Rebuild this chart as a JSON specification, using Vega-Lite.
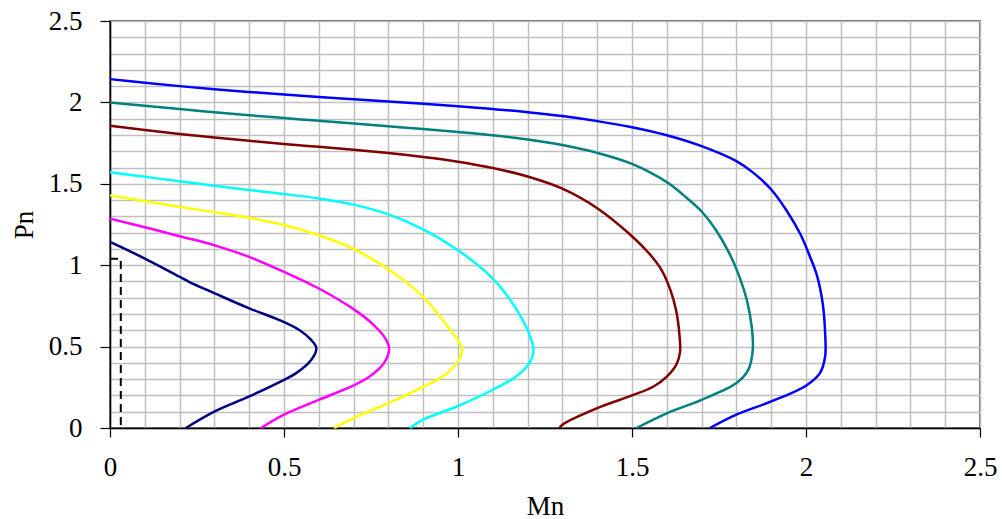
{
  "$schema": "https://vega.github.io/schema/vega-lite/v6.json",
  "width": 870,
  "height": 407,
  "autosize": "none",
  "padding": {"left": 110, "top": 21, "right": 22, "bottom": 91},
  "background": "white",
  "config": {
    "view": {"stroke": "#333333", "strokeWidth": 1.5},
    "font": "Liberation Serif"
  },
  "encoding": {
    "x": {
      "field": "m", "type": "quantitative",
      "scale": {"domain": [0, 2.5], "nice": false, "zero": false},
      "axis": {
        "values": [0,0.1,0.2,0.3,0.4,0.5,0.6,0.7,0.8,0.9,1,1.1,1.2,1.3,1.4,1.5,1.6,1.7,1.8,1.9,2,2.1,2.2,2.3,2.4,2.5],
        "title": "Mn",
        "grid": true, "gridColor": "#bfbfbf", "gridWidth": 1.5,
        "domainColor": "#000000", "domainWidth": 1.5,
        "tickColor": "#000000", "tickSize": 9, "tickWidth": 1.2,
        "tickOpacity": {"condition": {"test": "abs(datum.value*2-round(datum.value*2))<0.001", "value": 1}, "value": 0},
        "labelExpr": "abs(datum.value*2-round(datum.value*2))<0.001 ? format(datum.value,'.1~f') : ''",
        "labelOverlap": false, "labelFlush": false,
        "labelFont": "Liberation Serif", "labelFontSize": 27, "labelColor": "#000000", "labelPadding": 17,
        "titleFont": "Liberation Serif", "titleFontSize": 27, "titleFontWeight": "normal", "titleColor": "#000000", "titlePadding": 13
      }
    },
    "y": {
      "field": "p", "type": "quantitative",
      "scale": {"domain": [0, 2.5], "nice": false, "zero": false},
      "axis": {
        "values": [0,0.1,0.2,0.3,0.4,0.5,0.6,0.7,0.8,0.9,1,1.1,1.2,1.3,1.4,1.5,1.6,1.7,1.8,1.9,2,2.1,2.2,2.3,2.4,2.5],
        "title": "Pn",
        "grid": true, "gridColor": "#bfbfbf", "gridWidth": 1.5,
        "domainColor": "#000000", "domainWidth": 1.5,
        "tickColor": "#000000", "tickSize": 10, "tickWidth": 1.2,
        "tickOpacity": {"condition": {"test": "abs(datum.value*2-round(datum.value*2))<0.001", "value": 1}, "value": 0},
        "labelExpr": "abs(datum.value*2-round(datum.value*2))<0.001 ? format(datum.value,'.1~f') : ''",
        "labelOverlap": false, "labelFlush": false,
        "labelFont": "Liberation Serif", "labelFontSize": 27, "labelColor": "#000000", "labelPadding": 18,
        "titleFont": "Liberation Serif", "titleFontSize": 27, "titleFontWeight": "normal", "titleColor": "#000000", "titlePadding": 10
      }
    }
  },
  "layer": [
    {
      "data": {"values": [
        {"s":"a","i":0,"m":0,"p":1.143},{"s":"a","i":1,"m":0.1,"p":1.041},{"s":"a","i":2,"m":0.2,"p":0.929},{"s":"a","i":3,"m":0.227,"p":0.898},{"s":"a","i":4,"m":0.301,"p":0.827},{"s":"a","i":5,"m":0.4,"p":0.735},{"s":"a","i":6,"m":0.487,"p":0.663},{"s":"a","i":7,"m":0.544,"p":0.602},{"s":"a","i":8,"m":0.578,"p":0.541},{"s":"a","i":9,"m":0.593,"p":0.49},{"s":"a","i":10,"m":0.578,"p":0.418},{"s":"a","i":11,"m":0.535,"p":0.337},{"s":"a","i":12,"m":0.5,"p":0.296},{"s":"a","i":13,"m":0.4,"p":0.194},{"s":"a","i":14,"m":0.301,"p":0.102},{"s":"a","i":15,"m":0.218,"p":0},
        {"s":"b","i":0,"m":0,"p":1.286},{"s":"b","i":1,"m":0.1,"p":1.233},{"s":"b","i":2,"m":0.2,"p":1.178},{"s":"b","i":3,"m":0.301,"p":1.122},{"s":"b","i":4,"m":0.4,"p":1.051},{"s":"b","i":5,"m":0.5,"p":0.959},{"s":"b","i":6,"m":0.6,"p":0.857},{"s":"b","i":7,"m":0.7,"p":0.73},{"s":"b","i":8,"m":0.755,"p":0.638},{"s":"b","i":9,"m":0.791,"p":0.551},{"s":"b","i":10,"m":0.802,"p":0.49},{"s":"b","i":11,"m":0.789,"p":0.405},{"s":"b","i":12,"m":0.746,"p":0.316},{"s":"b","i":13,"m":0.7,"p":0.262},{"s":"b","i":14,"m":0.6,"p":0.173},{"s":"b","i":15,"m":0.5,"p":0.082},{"s":"b","i":16,"m":0.434,"p":0},
        {"s":"c","i":0,"m":0,"p":1.429},{"s":"c","i":1,"m":0.1,"p":1.393},{"s":"c","i":2,"m":0.2,"p":1.359},{"s":"c","i":3,"m":0.3,"p":1.326},{"s":"c","i":4,"m":0.4,"p":1.291},{"s":"c","i":5,"m":0.5,"p":1.247},{"s":"c","i":6,"m":0.6,"p":1.184},{"s":"c","i":7,"m":0.7,"p":1.1},{"s":"c","i":8,"m":0.8,"p":0.975},{"s":"c","i":9,"m":0.9,"p":0.806},{"s":"c","i":10,"m":0.956,"p":0.663},{"s":"c","i":11,"m":0.999,"p":0.541},{"s":"c","i":12,"m":1.012,"p":0.48},{"s":"c","i":13,"m":0.999,"p":0.408},{"s":"c","i":14,"m":0.956,"p":0.316},{"s":"c","i":15,"m":0.9,"p":0.253},{"s":"c","i":16,"m":0.8,"p":0.153},{"s":"c","i":17,"m":0.7,"p":0.061},{"s":"c","i":18,"m":0.644,"p":0},
        {"s":"d","i":0,"m":0,"p":1.571},{"s":"d","i":1,"m":0.1,"p":1.543},{"s":"d","i":2,"m":0.2,"p":1.515},{"s":"d","i":3,"m":0.3,"p":1.488},{"s":"d","i":4,"m":0.4,"p":1.462},{"s":"d","i":5,"m":0.5,"p":1.437},{"s":"d","i":6,"m":0.6,"p":1.41},{"s":"d","i":7,"m":0.7,"p":1.372},{"s":"d","i":8,"m":0.8,"p":1.312},{"s":"d","i":9,"m":0.9,"p":1.22},{"s":"d","i":10,"m":1.0,"p":1.092},{"s":"d","i":11,"m":1.1,"p":0.918},{"s":"d","i":12,"m":1.157,"p":0.765},{"s":"d","i":13,"m":1.2,"p":0.602},{"s":"d","i":14,"m":1.217,"p":0.48},{"s":"d","i":15,"m":1.205,"p":0.398},{"s":"d","i":16,"m":1.167,"p":0.316},{"s":"d","i":17,"m":1.1,"p":0.235},{"s":"d","i":18,"m":1.0,"p":0.135},{"s":"d","i":19,"m":0.9,"p":0.051},{"s":"d","i":20,"m":0.862,"p":0},
        {"s":"e","i":0,"m":0,"p":1.857},{"s":"e","i":1,"m":0.1,"p":1.83},{"s":"e","i":2,"m":0.2,"p":1.806},{"s":"e","i":3,"m":0.3,"p":1.784},{"s":"e","i":4,"m":0.4,"p":1.764},{"s":"e","i":5,"m":0.5,"p":1.745},{"s":"e","i":6,"m":0.6,"p":1.727},{"s":"e","i":7,"m":0.7,"p":1.709},{"s":"e","i":8,"m":0.8,"p":1.689},{"s":"e","i":9,"m":0.9,"p":1.665},{"s":"e","i":10,"m":1.0,"p":1.636},{"s":"e","i":11,"m":1.1,"p":1.597},{"s":"e","i":12,"m":1.2,"p":1.545},{"s":"e","i":13,"m":1.3,"p":1.47},{"s":"e","i":14,"m":1.4,"p":1.35},{"s":"e","i":15,"m":1.5,"p":1.178},{"s":"e","i":16,"m":1.55,"p":1.07},{"s":"e","i":17,"m":1.585,"p":0.97},{"s":"e","i":18,"m":1.61,"p":0.85},{"s":"e","i":19,"m":1.627,"p":0.72},{"s":"e","i":20,"m":1.636,"p":0.58},{"s":"e","i":21,"m":1.638,"p":0.465},{"s":"e","i":22,"m":1.627,"p":0.388},{"s":"e","i":23,"m":1.6,"p":0.316},{"s":"e","i":24,"m":1.562,"p":0.255},{"s":"e","i":25,"m":1.5,"p":0.2},{"s":"e","i":26,"m":1.4,"p":0.122},{"s":"e","i":27,"m":1.3,"p":0.02},{"s":"e","i":28,"m":1.292,"p":0},
        {"s":"f","i":0,"m":0,"p":2.0},{"s":"f","i":1,"m":0.1,"p":1.979},{"s":"f","i":2,"m":0.2,"p":1.959},{"s":"f","i":3,"m":0.3,"p":1.94},{"s":"f","i":4,"m":0.4,"p":1.921},{"s":"f","i":5,"m":0.5,"p":1.904},{"s":"f","i":6,"m":0.6,"p":1.887},{"s":"f","i":7,"m":0.7,"p":1.87},{"s":"f","i":8,"m":0.8,"p":1.853},{"s":"f","i":9,"m":0.9,"p":1.836},{"s":"f","i":10,"m":1.0,"p":1.818},{"s":"f","i":11,"m":1.1,"p":1.798},{"s":"f","i":12,"m":1.2,"p":1.772},{"s":"f","i":13,"m":1.3,"p":1.738},{"s":"f","i":14,"m":1.4,"p":1.69},{"s":"f","i":15,"m":1.5,"p":1.622},{"s":"f","i":16,"m":1.6,"p":1.51},{"s":"f","i":17,"m":1.657,"p":1.414},{"s":"f","i":18,"m":1.7,"p":1.33},{"s":"f","i":19,"m":1.743,"p":1.21},{"s":"f","i":20,"m":1.778,"p":1.08},{"s":"f","i":21,"m":1.805,"p":0.95},{"s":"f","i":22,"m":1.83,"p":0.786},{"s":"f","i":23,"m":1.844,"p":0.622},{"s":"f","i":24,"m":1.847,"p":0.48},{"s":"f","i":25,"m":1.834,"p":0.357},{"s":"f","i":26,"m":1.8,"p":0.276},{"s":"f","i":27,"m":1.7,"p":0.173},{"s":"f","i":28,"m":1.6,"p":0.09},{"s":"f","i":29,"m":1.513,"p":0},
        {"s":"g","i":0,"m":0,"p":2.143},{"s":"g","i":1,"m":0.1,"p":2.121},{"s":"g","i":2,"m":0.2,"p":2.1},{"s":"g","i":3,"m":0.3,"p":2.081},{"s":"g","i":4,"m":0.4,"p":2.064},{"s":"g","i":5,"m":0.5,"p":2.048},{"s":"g","i":6,"m":0.6,"p":2.033},{"s":"g","i":7,"m":0.7,"p":2.019},{"s":"g","i":8,"m":0.8,"p":2.005},{"s":"g","i":9,"m":0.9,"p":1.991},{"s":"g","i":10,"m":1.0,"p":1.976},{"s":"g","i":11,"m":1.1,"p":1.959},{"s":"g","i":12,"m":1.2,"p":1.94},{"s":"g","i":13,"m":1.3,"p":1.916},{"s":"g","i":14,"m":1.4,"p":1.885},{"s":"g","i":15,"m":1.5,"p":1.847},{"s":"g","i":16,"m":1.6,"p":1.798},{"s":"g","i":17,"m":1.7,"p":1.731},{"s":"g","i":18,"m":1.8,"p":1.639},{"s":"g","i":19,"m":1.849,"p":1.567},{"s":"g","i":20,"m":1.9,"p":1.465},{"s":"g","i":21,"m":1.945,"p":1.333},{"s":"g","i":22,"m":1.984,"p":1.19},{"s":"g","i":23,"m":2.01,"p":1.06},{"s":"g","i":24,"m":2.031,"p":0.94},{"s":"g","i":25,"m":2.048,"p":0.765},{"s":"g","i":26,"m":2.055,"p":0.582},{"s":"g","i":27,"m":2.055,"p":0.439},{"s":"g","i":28,"m":2.04,"p":0.337},{"s":"g","i":29,"m":2.0,"p":0.26},{"s":"g","i":30,"m":1.9,"p":0.163},{"s":"g","i":31,"m":1.8,"p":0.082},{"s":"g","i":32,"m":1.724,"p":0}
      ]},
      "mark": {"type": "line", "interpolate": "catmull-rom", "strokeWidth": 2.5},
      "encoding": {
        "order": {"field": "i", "type": "quantitative"},
        "color": {
          "field": "s", "type": "nominal", "legend": null,
          "scale": {"domain": ["a","b","c","d","e","f","g"], "range": ["#000080","#ff00ff","#ffff00","#00ffff","#800000","#008080","#0000ff"]}
        }
      }
    },
    {
      "data": {"values": [
        {"i":0,"m":0,"p":1.04},{"i":1,"m":0.031,"p":1.04},{"i":2,"m":0.031,"p":0}
      ]},
      "mark": {"type": "line", "color": "#000000", "strokeWidth": 2, "strokeDash": [8, 5]},
      "encoding": {
        "order": {"field": "i", "type": "quantitative"}
      }
    }
  ]
}
